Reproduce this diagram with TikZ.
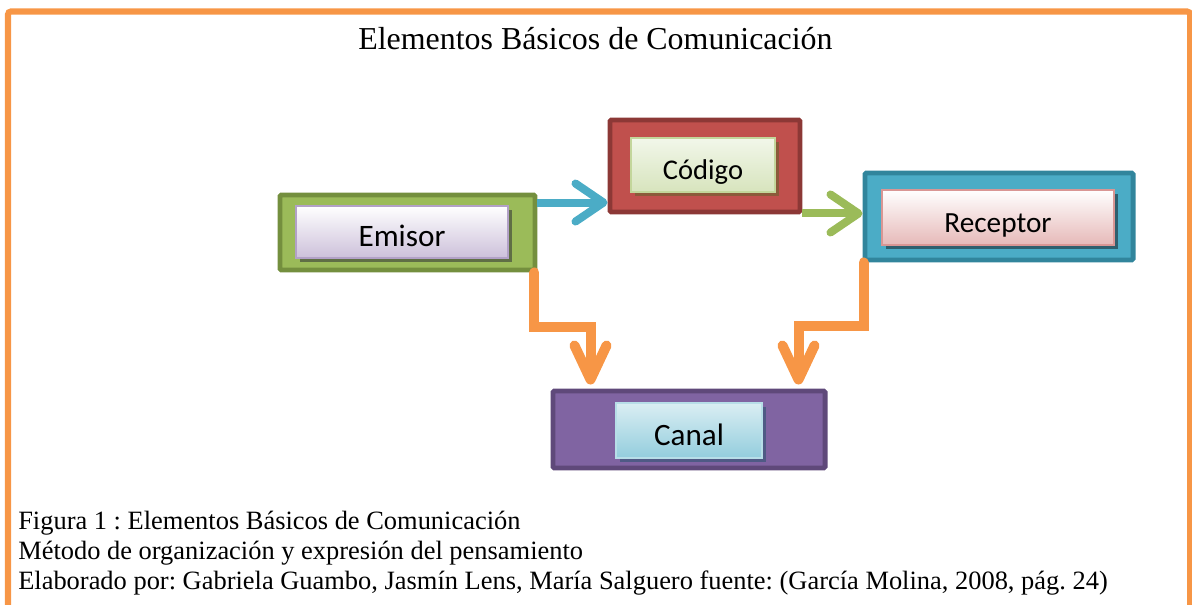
\documentclass[tikz,border=0pt]{standalone}
\usepackage{xcolor}
\usepackage{fontspec}
\setmainfont{Liberation Serif}
\newfontfamily\boxfont{Carlito}
\usepackage{tikz}
\usetikzlibrary{calc}
\usetikzlibrary{shadows}
\usetikzlibrary{arrows.meta}
\definecolor{frameorange}{HTML}{F79646}
\definecolor{emgreen}{HTML}{9BBB59}
\definecolor{emgreendk}{HTML}{748F3E}
\definecolor{cored}{HTML}{C0504D}
\definecolor{coreddk}{HTML}{8C3836}
\definecolor{reblue}{HTML}{4BACC6}
\definecolor{rebluedk}{HTML}{31859C}
\definecolor{capurple}{HTML}{8064A2}
\definecolor{capurpledk}{HTML}{5F497A}
%inner boxes
\definecolor{emisorbot}{HTML}{CCC0DA}
\definecolor{emisorln}{HTML}{B2A1C7}
\definecolor{emisorsh}{HTML}{5F6E45}
\definecolor{codigotop}{HTML}{F2F7EA}
\definecolor{codigobot}{HTML}{D7E4BD}
\definecolor{codigoln}{HTML}{C3D69B}
\definecolor{codigosh}{HTML}{8B5A3A}
\definecolor{receptorbot}{HTML}{E6B9B8}
\definecolor{receptorln}{HTML}{D99694}
\definecolor{receptorsh}{HTML}{2F5F6E}
\definecolor{canaltop}{HTML}{DAEEF3}
\definecolor{canalbot}{HTML}{93CDDD}
\definecolor{canalln}{HTML}{B7DEE8}
\definecolor{canalsh}{HTML}{4F5A85}
\newcommand{\boxtxt}[1]{\boxfont\fontsize{#1}{#1}\selectfont}
\frenchspacing

\begin{document}
\begin{tikzpicture}[x=0.025cm,y=-0.025cm,
		outerbox/.style={rectangle, line width=3.5pt, rounded corners=1pt, inner sep=0pt},
		innerbox/.style={rectangle, line width=1.2pt, inner sep=0pt, text height=21pt, text depth=0pt},
		thinarrow/.style={line width=0.2cm, -{Straight Barb[length=0.7cm,width=0.95cm,round]}},
		fatarrow/.style={draw=frameorange, line width=0.25cm, line cap=round, shorten >=0.1cm,
			preaction={draw=black!30, transform canvas={shift={(0.07cm,-0.07cm)}}},
			-{Straight Barb[length=0.85cm,width=0.8cm,round]}},
		captxt/.style={anchor=base west, inner sep=0pt, font=\fontsize{18.8}{21}\selectfont}]
			\useasboundingbox (0,0) rectangle (1192,605);
			%frame
			\draw [frameorange, line width=0.15cm, rounded corners=2pt] (8,610) -- (8,11.5) -- (1190,11.5) -- (1190,610);
			%title
			\node [anchor=base west, inner sep=0pt, font=\fontsize{22.7}{27}\selectfont] (title) at (358,49) {Elementos Básicos de Comunicación};

			%emisor
			\node [outerbox, fill=emgreen, draw=emgreendk, minimum width=6.375cm, minimum height=1.875cm] (emisor) at (407.5,232.5) {};
			\node [innerbox, top color=white, bottom color=emisorbot, draw=emisorln, font=\boxtxt{22.2},
				drop shadow={shadow xshift=0.11cm, shadow yshift=-0.11cm, fill=emisorsh, opacity=1},
				minimum width=5.3cm, minimum height=1.3cm] (emisortxt) at (402,232) {Emisor};
			%codigo
			\node [outerbox, fill=cored, draw=coreddk, minimum width=4.75cm, minimum height=2.3cm] (codigo) at (705,166) {};
			\node [innerbox, top color=codigotop, bottom color=codigobot, draw=codigoln, font=\boxtxt{20.3},
				drop shadow={shadow xshift=0.11cm, shadow yshift=-0.11cm, fill=codigosh, opacity=1},
				minimum width=3.6cm, minimum height=1.35cm] (codigotxt) at (703,165) {Código};
			%receptor
			\node [outerbox, fill=reblue, draw=rebluedk, minimum width=6.7cm, minimum height=2.175cm] (receptor) at (999,216.5) {};
			\node [innerbox, top color=white, bottom color=receptorbot, draw=receptorln, font=\boxtxt{20.8},
				drop shadow={shadow xshift=0.11cm, shadow yshift=-0.11cm, fill=receptorsh, opacity=1},
				minimum width=5.8cm, minimum height=1.375cm] (receptortxt) at (998,217.5) {Receptor};
			%canal
			\node [outerbox, fill=capurple, draw=capurpledk, minimum width=6.8cm, minimum height=1.925cm] (canal) at (689,429.5) {};
			\node [innerbox, top color=canaltop, bottom color=canalbot, draw=canalln, font=\boxtxt{22.1},
				drop shadow={shadow xshift=0.11cm, shadow yshift=-0.11cm, fill=canalsh, opacity=1},
				minimum width=3.65cm, minimum height=1.375cm] (canaltxt) at (689,430.5) {Canal};

			%arrows top
			\coordinate (a1) at ($(emisor.north east)+(0,10)$);
			\draw [thinarrow, reblue] (a1) -- (a1 -| codigo.west);
			\coordinate (a2) at ($(codigo.south east)+(0,-1)$);
			\draw [thinarrow, emgreen] (a2) -- (a2 -| receptor.west);
			%arrows down
			\coordinate (o1) at ($(emisor.south east)+(-3,0)$);
			\coordinate (o2) at ($(canal.north west)+(40,0)$);
			\draw [fatarrow] (o1) |- ($(o1)!0.47!(o2)$) -| (o2);
			\coordinate (o3) at ($(receptor.south west)+(1,0)$);
			\coordinate (o4) at ($(canal.north east)+(-29,0)$);
			\draw [fatarrow] (o3) |- ($(o3)!0.5!(o4)$) -| (o4);

			%caption
			\node [captxt] (cap1) at (18,529) {Figura 1 : Elementos Básicos de Comunicación};
			\node [captxt] (cap2) at (18,559) {Método de organización y expresión del pensamiento};
			\node [captxt] (cap3) at (18,589) {Elaborado por: Gabriela Guambo, Jasmín Lens, María Salguero fuente: (García Molina, 2008, pág. 24)};
		\end{tikzpicture}
\end{document}
